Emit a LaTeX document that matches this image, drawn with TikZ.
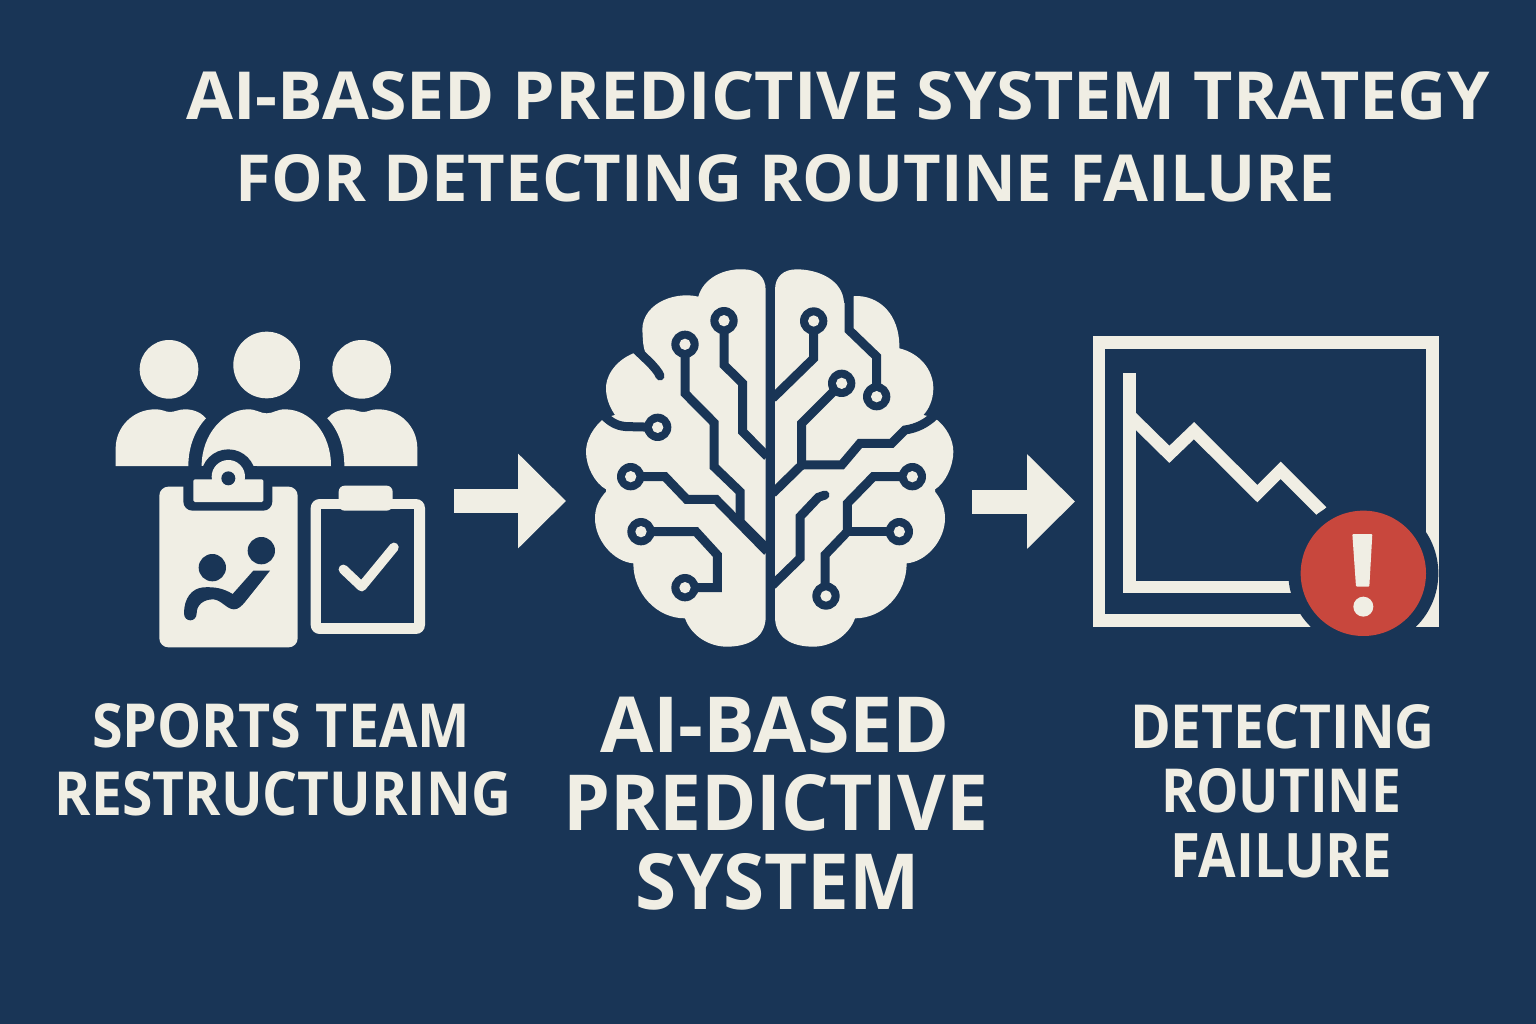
\documentclass[tikz,border=0pt]{standalone}
\usepackage{fontspec}
\usetikzlibrary{arrows.meta}
\setmainfont{Open Sans}
\definecolor{navy}{HTML}{193556}
\definecolor{cream}{HTML}{F0EEE4}
\definecolor{alert}{HTML}{C8473D}
\newcommand{\fitted}[3]{\resizebox{#1pt}{#2pt}{\fontsize{60}{60}\selectfont\bfseries #3}}
\newcommand{\ringnode}[2]{\fill[navy] (#1,#2) circle (41); \fill[cream] (#1,#2) circle (17);}
\tikzset{
  label text/.style={text=cream,inner sep=0pt,outer sep=0pt},
  flow/.style={cream,line width=24pt,-{Triangle[length=48pt,width=92pt]}},
  wire/.style={navy,line width=9pt,line join=miter},
  wirecap/.style={wire,line cap=round},
}
\begin{document}
\begin{tikzpicture}[x=1pt,y=-1pt]
\useasboundingbox (0,0) rectangle (1536,1024);
\fill[navy] (0,0) rectangle (1536,1024);

% title
\node[label text] (title1) at (838,96) {\fitted{1303}{48}{AI-BASED PREDICTIVE SYSTEM TRATEGY}};
\node[label text] (title2) at (785.5,178.5) {\fitted{1099}{47}{FOR DETECTING ROUTINE FAILURE}};

% team icon
\begin{scope}[shift={(100,320)},x=.33333pt,y=-.33333pt]
\fill[cream] (207,148) circle (88);
\fill[cream] (500,135) circle (100);
\fill[cream] (785,148) circle (88);
% left body
\fill[cream] (47,438) -- (47,385) .. controls (47,320) and (100,268) .. (165,268)
  .. controls (190,268) and (195,276) .. (210,276) .. controls (225,276) and (235,268) .. (255,268)
  .. controls (285,268) and (305,280) .. (318,295) .. controls (285,330) and (265,380) .. (265,438) -- cycle;
% right body
\fill[cream] (952,438) -- (952,385) .. controls (952,320) and (900,268) .. (835,268)
  .. controls (810,268) and (805,276) .. (790,276) .. controls (775,276) and (765,268) .. (745,268)
  .. controls (715,268) and (695,280) .. (682,295) .. controls (715,330) and (733,380) .. (733,438) -- cycle;
% middle body
\fill[cream] (305,438) .. controls (305,340) and (375,268) .. (445,268)
  .. controls (470,268) and (480,280) .. (500,280) .. controls (520,280) and (530,268) .. (555,268)
  .. controls (630,268) and (693,340) .. (693,438) -- cycle;
\fill[navy] (385,470) circle (82);
\fill[navy] (280,438) rectangle (470,480);
% big clipboard
\fill[cream,rounded corners=9pt] (178,500) rectangle (593,982);
\fill[navy,rounded corners=9pt] (250,470) rectangle (517,572);
\fill[cream,rounded corners=1.5pt] (280,478) rectangle (490,546);
\fill[cream] (385,470) circle (50);
\fill[navy] (385,475) circle (21);
\fill[navy] (337,743) circle (41);
\fill[navy] (484,692) circle (41);
\fill[navy] (510,752) -- (460,752) -- (398,822)
  .. controls (370,805) and (345,800) .. (310,802)
  .. controls (275,805) and (252,835) .. (252,880)
  .. controls (252,908) and (290,908) .. (290,880)
  .. controls (290,855) and (310,838) .. (340,838)
  .. controls (365,840) and (380,868) .. (402,868)
  .. controls (415,868) and (425,858) .. (435,846) -- cycle;
% small clipboard
\fill[cream,rounded corners=9pt] (632,537) rectangle (975,942);
\fill[navy] (663,567) rectangle (942,908);
\fill[cream,rounded corners=6pt] (716,497) rectangle (878,572);
\draw[cream,line width=9.5pt,line cap=round,line join=round] (730,748) -- (785,800) -- (882,682);
\end{scope}

% flow arrows
\coordinate (flow1a) at (454,501);
\coordinate (flow1b) at (566,501);
\coordinate (flow2a) at (972,501.5);
\coordinate (flow2b) at (1075,501.5);
\draw[flow] (flow1a) -- (flow1b);
\draw[flow] (flow2a) -- (flow2b);

% brain icon
\begin{scope}[shift={(570,250)},x=.33333pt,y=-.33333pt]
\fill[cream] (587,120) .. controls (587,80) and (560,58) .. (520,58)
  .. controls (460,55) and (400,85) .. (385,140)
  .. controls (310,122) and (205,165) .. (218,255)
  .. controls (218,270) and (220,290) .. (225,305) -- (190,310)
  .. controls (130,335) and (105,385) .. (108,420)
  .. controls (110,455) and (125,480) .. (135,495) -- (105,503)
  .. controls (70,530) and (48,570) .. (48,605)
  .. controls (48,650) and (75,700) .. (108,718) -- (108,725)
  .. controls (85,750) and (75,775) .. (75,805)
  .. controls (75,870) and (130,935) .. (190,940)
  .. controls (190,1030) and (260,1105) .. (345,1105)
  .. controls (365,1160) and (420,1190) .. (470,1190)
  .. controls (540,1190) and (587,1160) .. (587,1100) -- cycle;
\fill[cream] (615,120) .. controls (615,80) and (640,58) .. (680,58)
  .. controls (745,58) and (820,90) .. (822,160) -- (852,138)
  .. controls (925,135) and (990,190) .. (988,295)
  .. controls (1050,310) and (1090,360) .. (1090,415)
  .. controls (1090,450) and (1075,480) .. (1060,495) -- (1093,503)
  .. controls (1130,530) and (1150,570) .. (1150,605)
  .. controls (1150,650) and (1125,700) .. (1095,718) -- (1095,725)
  .. controls (1115,750) and (1125,775) .. (1125,805)
  .. controls (1125,870) and (1070,935) .. (1010,940)
  .. controls (1010,1030) and (940,1105) .. (855,1105)
  .. controls (835,1160) and (780,1190) .. (730,1190)
  .. controls (660,1190) and (615,1160) .. (615,1100) -- cycle;
% left wires
\draw[wire] (345,283) -- (345,430) -- (432,518) -- (432,650) -- (510,725) -- (510,815) -- (592,897);
\draw[wire] (462,212) -- (462,345) -- (518,400) -- (518,545) -- (592,620);
\draw[wire] (182,680) -- (285,680) -- (350,748) -- (438,748) -- (592,905);
\draw[wire] (213,845) -- (378,845) -- (442,915) -- (442,1013) -- (345,1013);
\draw[wire] (263,532) -- (178,530) .. controls (145,530) and (125,520) .. (100,495);
\draw[wirecap] (200,300) -- (242,340) .. controls (255,355) and (265,365) .. (270,378);
% right wires
\draw[wire] (731,213) -- (731,325) -- (608,445);
\draw[wire] (815,400) -- (695,520) -- (695,645) -- (608,730);
\draw[wire] (695,645) -- (815,645) -- (870,580) -- (965,580) -- (1005,540) .. controls (1040,535) and (1070,520) .. (1095,495);
\draw[wire] (920,440) -- (920,320) -- (837,240) -- (837,125);
\draw[wire] (1027,680) -- (910,680) -- (832,760) -- (832,845) -- (765,915) -- (765,1038);
\draw[wire] (988,845) -- (832,845);
\draw[wirecap] (765,735) -- (745,742) -- (690,800) -- (690,925) -- (608,1005);
\fill[navy] (587,40) rectangle (615,1200);
\ringnode{345}{283}\ringnode{462}{212}\ringnode{182}{680}\ringnode{213}{845}\ringnode{345}{1013}\ringnode{263}{532}
\ringnode{731}{213}\ringnode{815}{400}\ringnode{920}{440}\ringnode{1027}{680}\ringnode{988}{845}\ringnode{768}{1038}
\end{scope}

% chart icon
\begin{scope}[shift={(1080,320)},x=.33333pt,y=-.33333pt]
\fill[cream] (38,47) rectangle (1076,922);
\fill[navy] (76,87) rectangle (1038,883);
\draw[cream,line width=12.5pt] (149,160) -- (149,801) -- (640,801);
\draw[cream,line width=12.3pt,line join=miter] (150,287) -- (268,403) -- (342,332) -- (532,521) -- (602,451) -- (726,575);
\fill[navy] (850,760) circle (225);
\fill[navy] (1076,700) rectangle (1090,830);
\fill[alert] (850,760) circle (188);
\fill[cream,rounded corners=1pt] (817,642) -- (877,642) -- (868,800) -- (828,800) -- cycle;
\fill[cream] (850,860) circle (30);
\end{scope}

% labels
\node[label text] (team1) at (281,726) {\fitted{378}{44}{SPORTS TEAM}};
\node[label text] (team2) at (283,793.5) {\fitted{456}{44}{RESTRUCTURING}};
\node[label text] (ai1) at (775,725) {\fitted{350}{56}{AI-BASED}};
\node[label text] (ai2) at (775.5,803) {\fitted{425}{56}{PREDICTIVE}};
\node[label text] (ai3) at (778,882) {\fitted{284}{56}{SYSTEM}};
\node[label text] (det1) at (1282.5,726.5) {\fitted{305}{44}{DETECTING}};
\node[label text] (det2) at (1281,791) {\fitted{240}{44}{ROUTINE}};
\node[label text] (det3) at (1281,855.5) {\fitted{222}{44}{FAILURE}};
\end{tikzpicture}
\end{document}
